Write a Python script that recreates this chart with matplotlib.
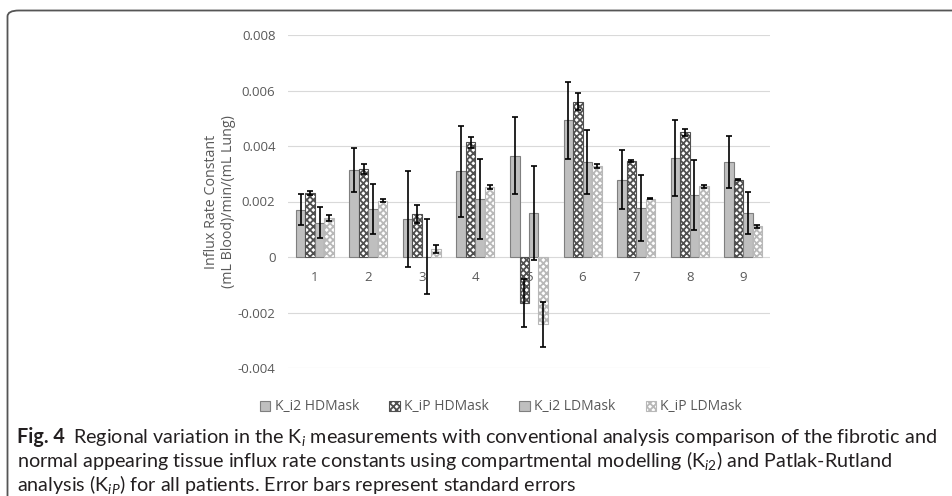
import matplotlib
matplotlib.use("Agg")
import matplotlib.pyplot as plt
import numpy as np
from matplotlib.patches import FancyBboxPatch

plt.rcParams["font.family"] = ["Open Sans", "DejaVu Sans"]
plt.rcParams["mathtext.fontset"] = "custom"
plt.rcParams["mathtext.rm"] = "Lato"
plt.rcParams["mathtext.it"] = "Lato:italic"
plt.rcParams["hatch.linewidth"] = 1.3

regions = ["1", "2", "3", "4", "5", "6", "7", "8", "9"]
series = ["K_i2 HDMask", "K_iP HDMask", "K_i2 LDMask", "K_iP LDMask"]

ki2_hd = [0.00171, 0.00315, 0.00137, 0.00309, 0.00365, 0.00492, 0.00279, 0.00357, 0.00342]
kip_hd = [0.00231, 0.00317, 0.00156, 0.00413, -0.00165, 0.00560, 0.00345, 0.00449, 0.00279]
ki2_ld = [0.00123, 0.00173, 0.00001, 0.00209, 0.00159, 0.00342, 0.00177, 0.00224, 0.00159]
kip_ld = [0.00141, 0.00203, 0.00029, 0.00253, -0.00243, 0.00327, 0.00210, 0.00255, 0.00111]

ki2_hd_err = [0.00057, 0.00079, 0.00174, 0.00164, 0.00139, 0.00140, 0.00107, 0.00136, 0.00094]
kip_hd_err = [0.00006, 0.00018, 0.00033, 0.00021, 0.00087, 0.00030, 0.00004, 0.00012, 0.00003]
ki2_ld_err = [0.00056, 0.00090, 0.00136, 0.00145, 0.00170, 0.00116, 0.00118, 0.00126, 0.00077]
kip_ld_err = [0.00012, 0.00006, 0.00016, 0.00008, 0.00082, 0.00007, 0.00002, 0.00006, 0.00005]

values = [ki2_hd, kip_hd, ki2_ld, kip_ld]
errors = [ki2_hd_err, kip_hd_err, ki2_ld_err, kip_ld_err]

# style per series: (facecolor, edgecolor, hatch)
styles = [
    ("#bfbfbf", "#7f7f7f", None),
    ("white", "#505050", "xxxxx"),
    ("#bfbfbf", "#7f7f7f", None),
    ("white", "#b8b8b8", "xxxxx"),
]

TXT = "#595959"
CAP = "#231f20"

fig = plt.figure(figsize=(9.52, 4.96), dpi=100)
fig.patch.set_facecolor("white")

# rounded frame around the chart
frame = FancyBboxPatch((7.5 / 952, -0.2), 1.2, 1 - 10.5 / 496 + 0.2,
                       boxstyle="round,pad=0,rounding_size=0.012",
                       transform=fig.transFigure, fill=False,
                       edgecolor="#555555", lw=1.3, clip_on=False)
fig.add_artist(frame)

ax = fig.add_axes([288 / 952, 1 - 368 / 496, 482 / 952, 333 / 496])
x = np.arange(len(regions))
w = 0.177
for k in range(4):
    fc, ec, hatch = styles[k]
    pos = x + (k - 1.5) * w
    ax.bar(pos, values[k], width=w, facecolor=fc, edgecolor=ec, hatch=hatch,
           linewidth=0.8, label=series[k], zorder=2)
    ax.errorbar(pos, values[k], yerr=errors[k], fmt="none", ecolor="black",
                elinewidth=1.2, capsize=2, capthick=1.2, zorder=3)

ax.set_xlim(-0.5, len(regions) - 0.5)
ax.set_ylim(-0.004, 0.008)
ax.set_yticks(np.arange(-0.004, 0.0081, 0.002))
ax.set_yticklabels(["-0.004", "-0.002", "0", "0.002", "0.004", "0.006", "0.008"])
ax.yaxis.grid(True, color="#d9d9d9", lw=0.8, zorder=0)
ax.set_axisbelow(True)
for s in ax.spines.values():
    s.set_visible(False)
ax.tick_params(axis="y", length=0, pad=9, labelsize=9.5, labelcolor=TXT)
ax.set_xticks([])
for i, r in enumerate(regions):
    ax.annotate(r, (i, 0), xytext=(0, -14.5), textcoords="offset points",
                ha="center", va="center", fontsize=9.5, color=TXT)

fig.text(220 / 952, 1 - 202 / 496,
         "Influx Rate Constant\n(mL Blood)/min/(mL Lung)",
         rotation=90, ha="center", va="center", fontsize=10.3, color=TXT,
         linespacing=1.15)

handles, labels = ax.get_legend_handles_labels()
leg = fig.legend(handles, labels, loc="center", bbox_to_anchor=(501 / 952, 1 - 407 / 496),
                 ncol=4, frameon=False, fontsize=10, handlelength=0.75,
                 handleheight=0.75, handletextpad=0.3, columnspacing=2.2)
for t in leg.get_texts():
    t.set_color(TXT)

# caption
cap_x = 17 / 952
cap_fs = 14.2
renderer = fig.canvas.get_renderer()
bold = fig.text(cap_x, 1 - 437 / 496, "Fig. 4", fontsize=cap_fs, fontweight="bold",
                family="Lato", color=CAP, va="center")
bb = bold.get_window_extent(renderer=renderer)
fig.text(bb.x1 / 952 + 8 / 952, 1 - 437 / 496,
         r"Regional variation in the K$_{i}$ measurements with conventional analysis comparison of the fibrotic and",
         fontsize=cap_fs, family="Lato", color=CAP, va="center")
fig.text(cap_x, 1 - 461 / 496,
         r"normal appearing tissue influx rate constants using compartmental modelling (K$_{i2}$) and Patlak-Rutland",
         fontsize=cap_fs, family="Lato", color=CAP, va="center")
fig.text(cap_x, 1 - 484 / 496,
         r"analysis (K$_{iP}$) for all patients. Error bars represent standard errors",
         fontsize=cap_fs, family="Lato", color=CAP, va="center")

fig.savefig("out.png", dpi=100)
